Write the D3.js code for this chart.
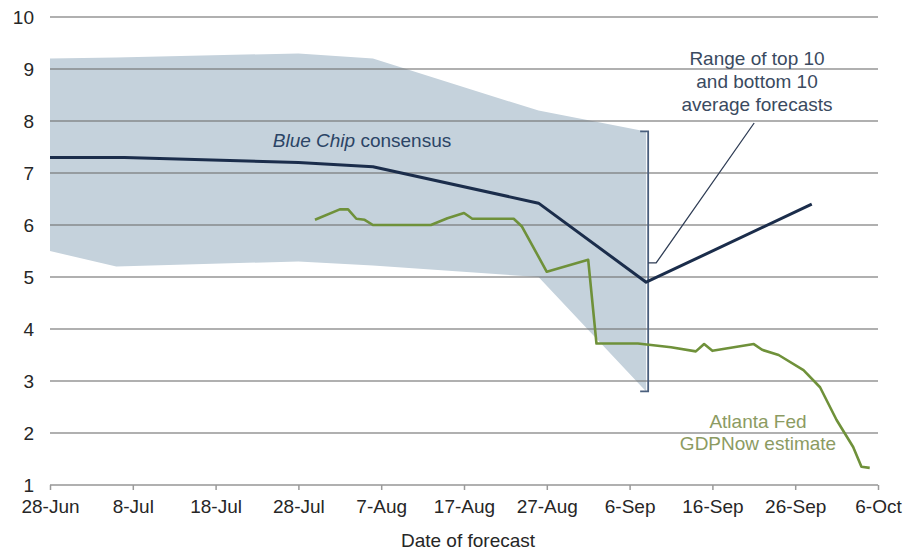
<!DOCTYPE html>
<html>
<head>
<meta charset="utf-8">
<script src="https://cdn.jsdelivr.net/npm/d3@7"></script>
<style>
  html, body { margin: 0; padding: 0; background: #fff; }
  svg { display: block; font-family: Arial, "Liberation Sans", sans-serif; }
</style>
</head>
<body>
<svg id="chart" width="919" height="553"></svg>
<script>
// ---- Data ----
const xTickLabels = ["28-Jun","8-Jul","18-Jul","28-Jul","7-Aug","17-Aug","27-Aug","6-Sep","16-Sep","26-Sep","6-Oct"];
const xTickDates = ["2021-06-28","2021-07-08","2021-07-18","2021-07-28","2021-08-07","2021-08-17","2021-08-27","2021-09-06","2021-09-16","2021-09-26","2021-10-06"];
const yTicks = [1,2,3,4,5,6,7,8,9,10];

const blueChipDates  = ["2021-06-28","2021-07-07","2021-07-28","2021-08-06","2021-08-26","2021-09-08","2021-09-28"];
const blueChipValues = [7.3, 7.3, 7.2, 7.12, 6.42, 4.9, 6.4];

const bandDates = ["2021-06-28","2021-07-06","2021-07-28","2021-08-06","2021-08-26","2021-09-08"];
const bandUpper = [9.2, 9.22, 9.3, 9.2, 8.2, 7.8];
const bandLower = [5.5, 5.2, 5.3, 5.22, 5.0, 2.8];

const gdpNowDates = ["2021-07-30","2021-08-02","2021-08-03","2021-08-04","2021-08-05","2021-08-06","2021-08-13",
  "2021-08-15","2021-08-17","2021-08-18","2021-08-23","2021-08-24","2021-08-27","2021-09-01","2021-09-02",
  "2021-09-07","2021-09-11","2021-09-14","2021-09-15","2021-09-16","2021-09-21","2021-09-22","2021-09-24",
  "2021-09-27","2021-09-29","2021-10-01","2021-10-03","2021-10-04","2021-10-05"];
const gdpNowValues = [6.1, 6.3, 6.3, 6.12, 6.1, 6.0, 6.0,
  6.13, 6.23, 6.12, 6.12, 5.97, 5.1, 5.33, 3.72,
  3.72, 3.65, 3.57, 3.71, 3.58, 3.71, 3.6, 3.5,
  3.21, 2.88, 2.25, 1.73, 1.35, 1.33];

const bracketValue = 5.27; // level of bracket nub

// ---- Setup ----
const W = 919, H = 553;
const margin = {top: 17, right: 41, bottom: 68, left: 50};
const svg = d3.select("#chart");
const parse = d3.timeParse("%Y-%m-%d");

const x = d3.scaleTime()
  .domain([parse(xTickDates[0]), parse(xTickDates[xTickDates.length - 1])])
  .range([margin.left, W - margin.right]);
const y = d3.scaleLinear().domain([1, 10]).range([H - margin.bottom, margin.top]);

const band = bandDates.map((d, i) => ({d: parse(d), hi: bandUpper[i], lo: bandLower[i]}));
const blue = blueChipDates.map((d, i) => ({d: parse(d), v: blueChipValues[i]}));
const gdp = gdpNowDates.map((d, i) => ({d: parse(d), v: gdpNowValues[i]}));

// Band
svg.append("path")
  .datum(band)
  .attr("fill", "#c5d2dc")
  .attr("d", d3.area().x(d => x(d.d)).y0(d => y(d.lo)).y1(d => y(d.hi)));

// Gridlines
svg.append("g")
  .selectAll("line")
  .data(yTicks)
  .join("line")
  .attr("x1", margin.left).attr("x2", W - margin.right)
  .attr("y1", d => y(d)).attr("y2", d => y(d))
  .attr("stroke", "#6f6f6f").attr("stroke-opacity", 0.55).attr("stroke-width", 2);

// Y labels
svg.append("g")
  .selectAll("text")
  .data(yTicks)
  .join("text")
  .attr("x", 34).attr("y", d => y(d))
  .attr("dy", "0.35em")
  .attr("text-anchor", "end")
  .attr("font-size", 19)
  .attr("fill", "#262626")
  .text(d => d);

// X axis
const xAxis = d3.axisBottom(x)
  .tickValues(xTickDates.map(parse))
  .tickSize(5)
  .tickFormat((d, i) => xTickLabels[i]);
const gx = svg.append("g")
  .attr("transform", `translate(0,${y(1)})`)
  .call(xAxis);
gx.select(".domain").remove();
gx.selectAll(".tick line").attr("stroke", "#9a9a9a").attr("stroke-width", 1.5);
gx.selectAll(".tick text")
  .attr("font-size", 19)
  .attr("font-family", "Arial, 'Liberation Sans', sans-serif")
  .attr("fill", "#262626")
  .attr("y", 15);

svg.append("text")
  .attr("x", 468).attr("y", 547)
  .attr("text-anchor", "middle")
  .attr("font-size", 19)
  .attr("fill", "#262626")
  .text("Date of forecast");

// Bracket
const bx = x(band[band.length - 1].d) + 2;
const bTop = y(bandUpper[bandUpper.length - 1]);
const bBot = y(bandLower[bandLower.length - 1]);
const bMid = y(bracketValue);
svg.append("path")
  .attr("d", `M${bx - 8},${bTop} L${bx},${bTop} L${bx},${bBot} L${bx - 8},${bBot}`)
  .attr("fill", "none").attr("stroke", "#4a5f7d").attr("stroke-width", 1.8);
svg.append("path")
  .attr("d", `M${bx},${bMid} L${bx + 8},${bMid} L${bx + 106},123`)
  .attr("fill", "none").attr("stroke", "#2f3d55").attr("stroke-width", 1.3);

// Blue Chip line
svg.append("path")
  .datum(blue)
  .attr("fill", "none")
  .attr("stroke", "#1b2d4b")
  .attr("stroke-width", 3)
  .attr("stroke-linejoin", "round")
  .attr("d", d3.line().x(d => x(d.d)).y(d => y(d.v)));

// GDPNow line
svg.append("path")
  .datum(gdp)
  .attr("fill", "none")
  .attr("stroke", "#6f913a")
  .attr("stroke-width", 2.6)
  .attr("stroke-linejoin", "round")
  .attr("d", d3.line().x(d => x(d.d)).y(d => y(d.v)));

// Annotations
const bc = svg.append("text")
  .attr("x", 362).attr("y", 147)
  .attr("text-anchor", "middle")
  .attr("font-size", 19)
  .attr("fill", "#2b4466");
bc.append("tspan").attr("font-style", "italic").text("Blue Chip");
bc.append("tspan").text(" consensus");

const rangeLines = ["Range of top 10", "and bottom 10", "average forecasts"];
svg.append("g")
  .selectAll("text")
  .data(rangeLines)
  .join("text")
  .attr("x", 757)
  .attr("y", (d, i) => 65 + i * 23)
  .attr("text-anchor", "middle")
  .attr("font-size", 19)
  .attr("fill", "#3a4a60")
  .text(d => d);

const atlLines = ["Atlanta Fed", "GDPNow estimate"];
svg.append("g")
  .selectAll("text")
  .data(atlLines)
  .join("text")
  .attr("x", 758)
  .attr("y", (d, i) => 428 + i * 22)
  .attr("text-anchor", "middle")
  .attr("font-size", 19)
  .attr("fill", "#8c9b62")
  .text(d => d);
</script>
</body>
</html>
